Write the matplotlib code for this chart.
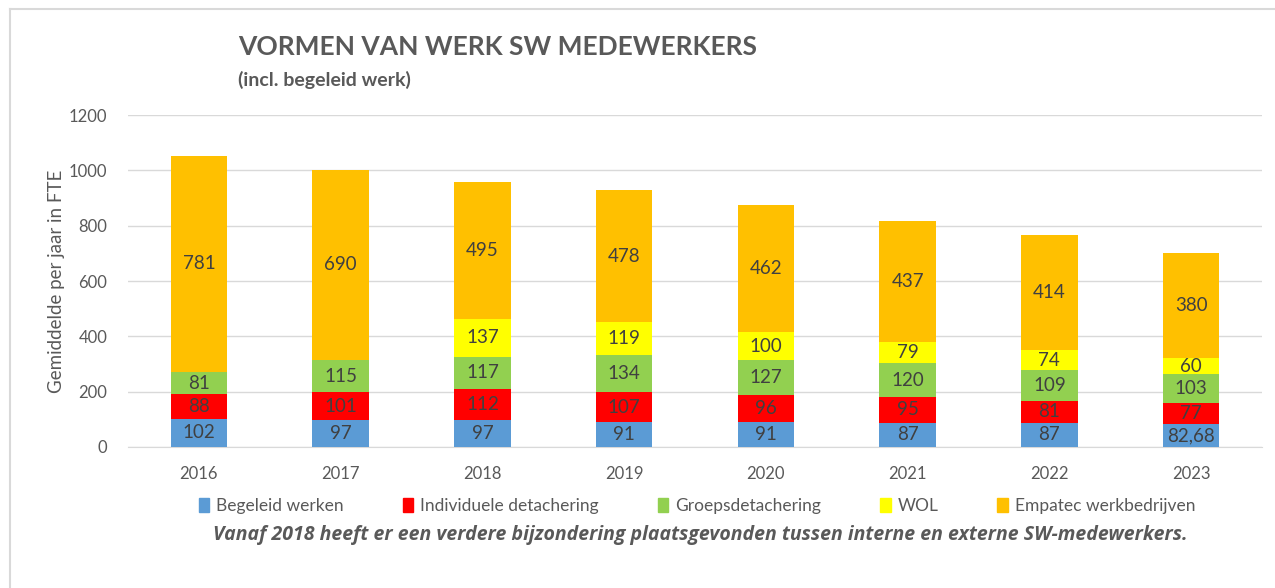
import matplotlib
matplotlib.use("Agg")
import matplotlib.pyplot as plt
from matplotlib.lines import Line2D
import numpy as np

plt.rcParams['font.family'] = ['Lato', 'DejaVu Sans']

years = ["2016", "2017", "2018", "2019", "2020", "2021", "2022", "2023"]
begeleid = [102, 97, 97, 91, 91, 87, 87, 82.68]
individueel = [88, 101, 112, 107, 96, 95, 81, 77]
groeps = [81, 115, 117, 134, 127, 120, 109, 103]
wol = [0, 0, 137, 119, 100, 79, 74, 60]
empatec = [781, 690, 495, 478, 462, 437, 414, 380]

series_names = ["Begeleid werken", "Individuele detachering", "Groepsdetachering",
                "WOL", "Empatec werkbedrijven"]
series = [begeleid, individueel, groeps, wol, empatec]
colors = ["#5B9BD5", "#FF0000", "#92D050", "#FFFF00", "#FFC000"]

txt = "#595959"
lbl = "#404040"

fig = plt.figure(figsize=(12.75, 5.88), dpi=100)
ax = fig.add_axes([0.1004, 0.2398, 0.8894, 0.5646])

x = np.arange(len(years))
bottom = np.zeros(len(years))
for name, vals, c in zip(series_names, series, colors):
    vals = np.array(vals, dtype=float)
    ax.bar(x, vals, 0.40, bottom=bottom, color=c, label=name, zorder=3)
    for xi, b, v in zip(x, bottom, vals):
        if v > 0:
            s = f"{v:g}".replace(".", ",")
            ax.text(xi, b + v / 2, s, ha="center", va="center", fontsize=13.5,
                    color=lbl, zorder=4)
    bottom += vals

ax.set_xlim(-0.5, len(years) - 0.5)
ax.set_ylim(0, 1200)
ax.set_yticks(range(0, 1201, 200))
ax.set_xticks(x)
ax.set_xticklabels(years)
ax.tick_params(axis="both", length=0, labelsize=12, labelcolor=txt)
ax.tick_params(axis="y", pad=15)
ax.tick_params(axis="x", pad=14)
ax.grid(axis="y", color="#D9D9D9", linewidth=1, zorder=0)
for s in ["top", "right", "left"]:
    ax.spines[s].set_visible(False)
ax.spines["bottom"].set_color("#D9D9D9")
ax.set_ylabel("Gemiddelde per jaar in FTE", fontsize=13.5, color=txt, labelpad=3)

fig.text(238 / 1275, 1 - 47 / 588, "VORMEN VAN WERK SW MEDEWERKERS", fontsize=19,
         fontweight="bold", color=txt, ha="left", va="center")
fig.text(238 / 1275, 1 - 80 / 588, "(incl. begeleid werk)", fontsize=14,
         fontweight="bold", color=txt, ha="left", va="center")

handles = [plt.Rectangle((0, 0), 1, 1, color=c) for c in colors]
leg = fig.legend(handles, series_names, loc="center", ncol=5,
                 bbox_to_anchor=(697 / 1275, 1 - 506 / 588), frameon=False,
                 fontsize=12.5, handlelength=0.6, handleheight=0.9,
                 handletextpad=0.4, columnspacing=3.4, labelcolor=txt)

fig.text(700 / 1275, 1 - 535 / 588,
         "Vanaf 2018 heeft er een verdere bijzondering plaatsgevonden tussen interne en externe SW-medewerkers.",
         fontsize=14, fontweight="bold", fontstyle="italic", color=txt,
         ha="center", va="center", family=["Open Sans", "DejaVu Sans"])

# outer chart border (top and left visible)
fig.add_artist(Line2D([9.5 / 1275, 1], [1 - 9 / 588, 1 - 9 / 588], color="#D9D9D9", lw=1.5))
fig.add_artist(Line2D([9.5 / 1275, 9.5 / 1275], [0, 1 - 9 / 588], color="#D9D9D9", lw=1.5))

fig.savefig("out.png", dpi=100)
